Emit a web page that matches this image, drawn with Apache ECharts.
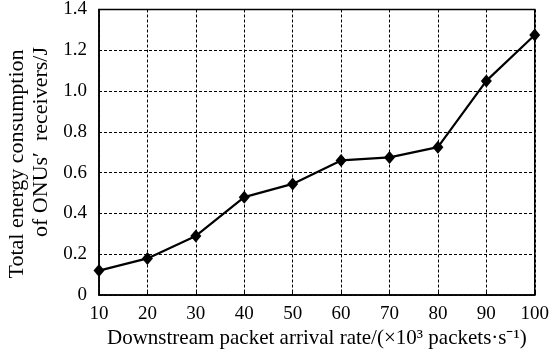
<!DOCTYPE html>
<html>
<head>
<meta charset="utf-8">
<script src="https://cdn.jsdelivr.net/npm/echarts@6/dist/echarts.min.js"></script>
<style>
  html, body { margin: 0; padding: 0; background: #fff; }
  #chart { width: 552px; height: 354px; }
</style>
</head>
<body>
<div id="chart"></div>
<script>
// arrival rate (x10^3 packets/s)
const rates = [10, 20, 30, 40, 50, 60, 70, 80, 90, 100];
// total energy consumption of ONUs' receivers (J)
const energy = [0.12, 0.18, 0.29, 0.48, 0.545, 0.66, 0.675, 0.725, 1.05, 1.275];
const yTicks = ['0', '0.2', '0.4', '0.6', '0.8', '1.0', '1.2', '1.4'];

const serif = '"Liberation Serif", "Times New Roman", serif';
const chart = echarts.init(document.getElementById('chart'));

const gridLine = { show: true, lineStyle: { color: '#000', type: [3, 2], width: 1 } };

chart.setOption({
  animation: false,
  grid: {
    left: 99, right: 15, top: 9, bottom: 58,
    show: true, borderColor: '#000', borderWidth: 1.5, backgroundColor: 'transparent'
  },
  xAxis: {
    type: 'value', min: 10, max: 100, interval: 10,
    name: 'Downstream packet arrival rate/(×10³ packets·s⁻¹)',
    nameLocation: 'middle', nameGap: 30,
    nameTextStyle: { fontFamily: serif, fontSize: 21, color: '#000' },
    axisLine: { lineStyle: { color: '#000', width: 1.5 } },
    axisTick: { inside: true, length: 4, lineStyle: { color: '#000' } },
    axisLabel: { fontFamily: serif, fontSize: 19, color: '#000', margin: 9 },
    splitLine: gridLine
  },
  yAxis: {
    type: 'value', min: 0, max: 1.4, interval: 0.2,
    axisLine: { show: true, lineStyle: { color: '#000', width: 1.5 } },
    axisTick: { show: false },
    axisLabel: {
      fontFamily: serif, fontSize: 19, color: '#000', margin: 12,
      formatter: (v) => yTicks[Math.round(v / 0.2)]
    },
    splitLine: gridLine
  },
  graphic: [
    {
      type: 'text', x: 17, y: 164, rotation: Math.PI / 2,
      style: { text: 'Total energy consumption', font: '22px ' + serif, fill: '#000', align: 'center', verticalAlign: 'middle' }
    },
    {
      type: 'text', x: 41, y: 142, rotation: Math.PI / 2,
      style: { text: 'of ONUs′  receivers/J', font: '22px ' + serif, fill: '#000', align: 'center', verticalAlign: 'middle' }
    }
  ],
  series: [{
    type: 'line',
    data: rates.map((r, i) => [r, energy[i]]),
    symbol: 'diamond', symbolSize: [11, 13],
    lineStyle: { color: '#000', width: 2.2 },
    itemStyle: { color: '#000' }
  }]
});
</script>
</body>
</html>
